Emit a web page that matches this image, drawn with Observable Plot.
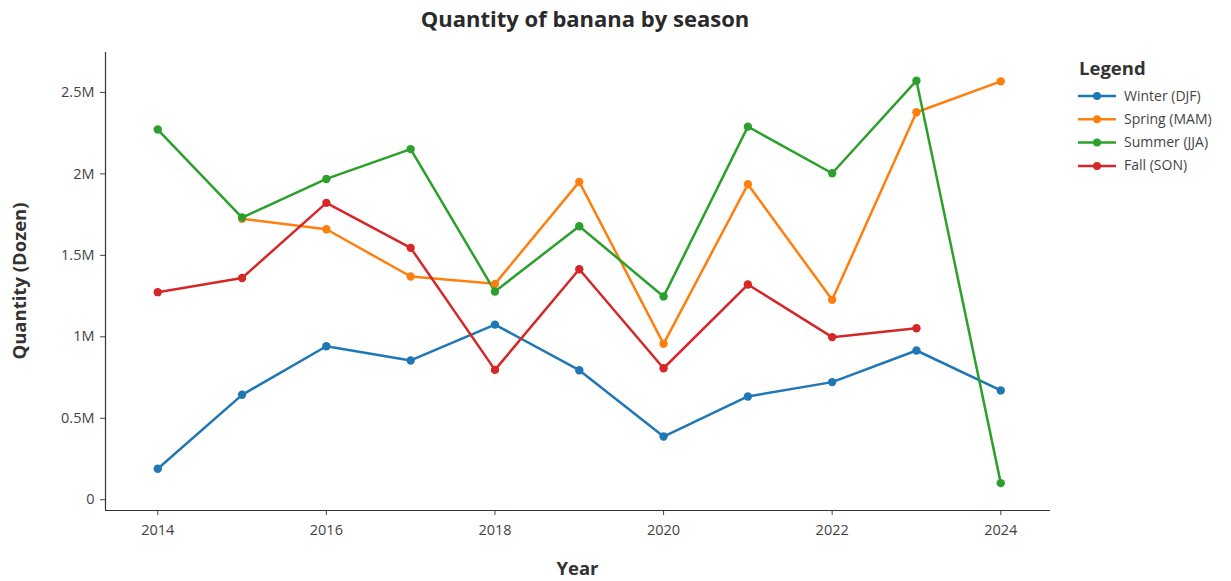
<!DOCTYPE html>
<html>
<head>
<meta charset="utf-8">
<script src="https://cdn.jsdelivr.net/npm/d3@7"></script>
<script src="https://cdn.jsdelivr.net/npm/@observablehq/plot@0.6"></script>
<style>
  html, body { margin: 0; padding: 0; background: #fff; }
  body { font-family: "Open Sans", sans-serif; }
  #wrap { position: relative; width: 1231px; height: 581px; overflow: hidden; }
  #title { position: absolute; top: 3px; left: 585px; transform: translateX(-50%); font-size: 22px; font-weight: 700; color: #2a2a2a; white-space: nowrap; }
  #legend { position: absolute; left: 1074px; top: 55px; }
  #chart { position: absolute; left: 0; top: 0; }
</style>
</head>
<body>
<div id="wrap">
  <div id="chart"></div>
  <div id="title">Quantity of banana by season</div>
  <div id="legend"></div>
</div>
<script>
const years = [2014, 2015, 2016, 2017, 2018, 2019, 2020, 2021, 2022, 2023, 2024];
const seasons = ["Winter (DJF)", "Spring (MAM)", "Summer (JJA)", "Fall (SON)"];
const colors = ["#1f77b4", "#ff7f0e", "#2ca02c", "#d62728"];
const winter = [190000, 644000, 942000, 855000, 1075000, 795000, 388000, 634000, 722000, 916000, 671000];
const spring = [null, 1724000, 1660000, 1370000, 1325000, 1951000, 957000, 1936000, 1227000, 2378000, 2568000];
const summer = [2272000, 1732000, 1969000, 2152000, 1278000, 1679000, 1247000, 2290000, 2004000, 2572000, 102000];
const fall = [1274000, 1361000, 1822000, 1546000, 797000, 1415000, 807000, 1321000, 998000, 1053000, null];
const yTicks = [0, 500000, 1000000, 1500000, 2000000, 2500000];
const yTickLabels = ["0", "0.5M", "1M", "1.5M", "2M", "2.5M"];
const xTicks = [2014, 2016, 2018, 2020, 2022, 2024];
const xDomain = [2013.38, 2024.59];
const yDomain = [-66000, 2745000];

const series = [winter, spring, summer, fall];
const rows = [];
series.forEach((vals, si) => {
  vals.forEach((v, i) => {
    if (v != null) rows.push({season: seasons[si], year: years[i], value: v});
  });
});

const chart = Plot.plot({
  width: 1231,
  height: 581,
  marginLeft: 105,
  marginRight: 181,
  marginTop: 52,
  marginBottom: 71,
  style: {fontFamily: "'Open Sans', sans-serif", fontSize: "14.5px", color: "#444", background: "#fff"},
  x: {domain: xDomain, ticks: xTicks, tickFormat: d => String(d), label: null},
  y: {domain: yDomain, ticks: yTicks, tickFormat: d => yTickLabels[yTicks.indexOf(d)], label: null},
  color: {domain: seasons, range: colors},
  marks: [
    Plot.axisX({ticks: xTicks, tickFormat: d => String(d), tickSize: 5, tickPadding: 9, fontSize: 14.5, stroke: "#444", fill: "#444", label: null}),
    Plot.axisY({ticks: yTicks, tickFormat: d => yTickLabels[yTicks.indexOf(d)], tickSize: 5, tickPadding: 6, fontSize: 14.5, stroke: "#444", fill: "#444", label: null}),
    Plot.ruleX([xDomain[0]], {stroke: "#333", strokeWidth: 1.2}),
    Plot.ruleY([yDomain[0]], {stroke: "#333", strokeWidth: 1.2}),
    Plot.line(rows, {x: "year", y: "value", z: "season", stroke: "season", strokeWidth: 2.5}),
    Plot.dot(rows, {x: "year", y: "value", fill: "season", r: 4.2})
  ]
});

const svg = d3.select(chart);
svg.append("text")
  .attr("x", (105 + 1050) / 2).attr("y", 575)
  .attr("text-anchor", "middle")
  .attr("font-family", "'Open Sans', sans-serif")
  .attr("font-size", 18.5).attr("font-weight", 700).attr("fill", "#333")
  .text("Year");
svg.append("text")
  .attr("transform", `translate(26, ${(52 + 510) / 2}) rotate(-90)`)
  .attr("text-anchor", "middle")
  .attr("font-family", "'Open Sans', sans-serif")
  .attr("font-size", 18.5).attr("font-weight", 700).attr("fill", "#333")
  .text("Quantity (Dozen)");

document.getElementById("chart").appendChild(chart);

const lg = d3.select("#legend").append("svg").attr("width", 157).attr("height", 125);
lg.append("text").attr("x", 5).attr("y", 20)
  .attr("font-family", "'Open Sans', sans-serif").attr("font-size", 18.5).attr("font-weight", 700).attr("fill", "#333")
  .text("Legend");
seasons.forEach((s, i) => {
  const y = 41 + i * 23.3;
  const g = lg.append("g");
  g.append("line").attr("x1", 4).attr("x2", 42).attr("y1", y).attr("y2", y).attr("stroke", colors[i]).attr("stroke-width", 2.5);
  g.append("circle").attr("cx", 23).attr("cy", y).attr("r", 4).attr("fill", colors[i]);
  g.append("text").attr("x", 50).attr("y", y + 4.5)
    .attr("font-family", "'Open Sans', sans-serif").attr("font-size", 14).attr("fill", "#444")
    .text(s);
});
</script>
</body>
</html>
